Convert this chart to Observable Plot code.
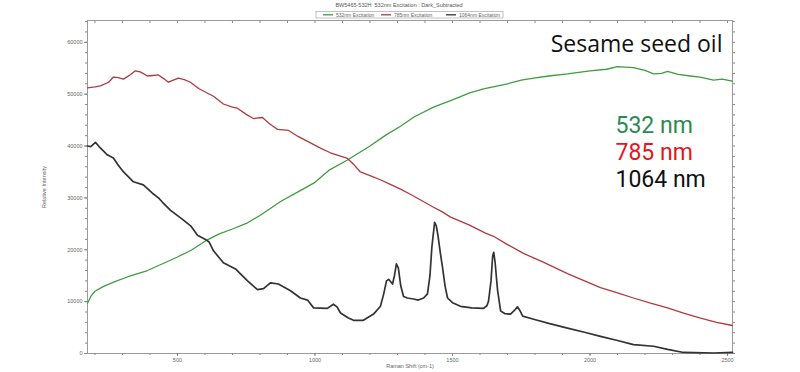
<!DOCTYPE html>
<html>
<head>
<meta charset="utf-8">
<script src="https://cdn.jsdelivr.net/npm/d3@7"></script>
<script src="https://cdn.jsdelivr.net/npm/@observablehq/plot@0.6"></script>
<style>
  body { margin: 0; background: #fff; }
  #chart { width: 800px; height: 372px; }
</style>
</head>
<body>
<div id="chart"></div>
<script>
// ---- Data ----
const chartTitle = "BW5465-532H  532nm Excitation : Dark_Subtracted";
const seriesNames = ["532nm Excitation", "785nm Excitation", "1064nm Excitation"];
const seriesColors = ["#3f9c3f", "#b03a3e", "#333333"];
const annotationLabels = ["532 nm", "785 nm", "1064 nm"];
const annotationColors = ["#2a8a55", "#e3161b", "#111111"];
const sampleName = "Sesame seed oil";

const xTicks = [500, 1000, 1500, 2000, 2500];
const yTicks = [0, 10000, 20000, 30000, 40000, 50000, 60000];

// 532 nm excitation
const shift532 = [173,185,200,230,270,320,391,450,500,550,602,650,700,755,800,875,950,1000,1050,1118,1200,1260,1311,1360,1431,1500,1560,1613,1700,1750,1795,1850,1918,2000,2060,2100,2158,2200,2231,2260,2282,2320,2365,2400,2449,2480,2518];
const int532   = [9700,11000,12000,12900,13800,14800,16000,17400,18600,19900,21700,23000,24000,25200,26600,29300,31500,33000,35300,37300,40000,42200,43800,45600,47500,48900,50200,51000,52000,52700,53100,53500,53900,54500,54800,55300,55100,54600,53900,54000,54400,53800,53500,53300,52700,52900,52500];

// 785 nm excitation
const shift785 = [173,200,220,250,267,285,304,330,347,365,391,410,431,450,467,485,504,525,547,580,631,667,700,718,750,776,809,835,864,904,940,973,1020,1056,1118,1140,1165,1200,1238,1270,1311,1350,1384,1431,1460,1493,1560,1620,1649,1700,1758,1830,1918,1980,2038,2100,2158,2220,2282,2340,2402,2460,2518];
const int785   = [51200,51400,51600,52300,53300,53200,52900,53800,54500,54300,53500,53600,53700,53000,52300,52700,53100,52800,52300,51000,49600,48100,47500,47300,46100,45300,45500,44300,43200,43000,41800,40900,39600,38700,37600,36500,35000,34300,33500,32700,31700,30600,29600,28200,27400,26300,24800,23200,22600,21000,19300,17600,15400,14000,12700,11700,10700,9700,8800,7800,6800,6000,5400];

// 1064 nm excitation
const shift1064 = [173,185,202,215,245,267,285,304,340,376,409,431,445,475,522,550,573,602,615,631,667,711,755,791,813,838,867,911,947,973,995,1045,1067,1080,1093,1120,1140,1176,1213,1238,1250,1260,1268,1282,1289,1296,1303,1312,1322,1336,1358,1376,1395,1409,1418,1425,1435,1441,1447,1456,1464,1473,1482,1500,1529,1570,1613,1625,1631,1640,1646,1650,1655,1664,1675,1690,1711,1725,1736,1745,1755,1795,1850,1918,1980,2038,2100,2158,2231,2282,2340,2450,2518];
const int1064   = [40000,39900,40700,39900,38300,37700,36300,35000,33100,32500,30900,30000,29200,27600,25700,24500,22800,22000,21500,19800,17500,16300,14000,12300,12500,13600,13400,12100,10700,10300,8800,8700,9500,9000,7800,6900,6400,6400,7600,9100,11500,14000,14300,13400,15000,17300,16500,13000,11000,10700,10500,10300,10700,11500,15000,20500,25300,24600,22800,19300,16500,13000,10700,9800,9100,8800,8700,9200,10100,14000,18800,19500,17500,12100,8200,7700,7600,8300,9000,8300,7200,6600,5800,4900,4100,3300,2500,1700,1400,800,200,100,200];

// ---- Build table ----
const rows = [];
[[shift532, int532], [shift785, int785], [shift1064, int1064]].forEach(([xs, ys], i) => {
  xs.forEach((x, j) => rows.push({series: seriesNames[i], shift: x, intensity: ys[j]}));
});

const plot = Plot.plot({
  width: 800,
  height: 372,
  marginTop: 20,
  marginRight: 68,
  marginBottom: 19,
  marginLeft: 87,
  style: {fontFamily: "Arial, 'Liberation Sans', sans-serif", fontSize: "6px", color: "#666", background: "#fff"},
  x: {domain: [173, 2518]},
  y: {domain: [0, 64200]},
  color: {domain: seriesNames, range: seriesColors},
  marks: [
    Plot.frame({stroke: "#9a9a9a"}),
    Plot.axisX({ticks: xTicks, tickSize: 3, tickPadding: 2, fontSize: 5.5, tickFormat: d3.format("d"),
      label: "Raman Shift (cm-1)", labelAnchor: "center", labelArrow: "none", labelOffset: 14, stroke: "#888"}),
    Plot.axisX({ticks: d3.range(200, 2501, 100), tickSize: 2, text: null, label: null, stroke: "#888"}),
    Plot.axisX({anchor: "top", ticks: d3.range(200, 2501, 100), tickSize: -2, text: null, label: null, stroke: "#888"}),
    Plot.axisY({ticks: yTicks, tickSize: 3, tickPadding: 2, fontSize: 5.5, tickFormat: d3.format("d"),
      label: "Relative Intensity", labelAnchor: "center", labelArrow: "none", labelOffset: 45, stroke: "#888"}),
    Plot.axisY({ticks: d3.range(0, 64001, 2000), tickSize: 2, text: null, label: null, stroke: "#888"}),
    Plot.axisY({anchor: "right", ticks: d3.range(0, 64001, 2000), tickSize: 2, text: null, label: null, stroke: "#888"}),
    Plot.line(rows, {x: "shift", y: "intensity", z: "series", stroke: "series",
      strokeWidth: d => d.series === seriesNames[2] ? 1.7 : 1.3, curve: "linear"}),
    Plot.text([sampleName], {text: d => d, frameAnchor: "top-right", dx: -10, dy: 31,
      textAnchor: "end", lineAnchor: "bottom", fontSize: 23, fill: "#111",
      fontFamily: "'Open Sans', 'Noto Sans', sans-serif"}),
    ...annotationLabels.map((lab, i) => Plot.text([lab], {text: d => d, frameAnchor: "top-left",
      dx: 528, dy: 112 + 27 * i, textAnchor: "start", lineAnchor: "bottom", fontSize: 23,
      fill: annotationColors[i], fontFamily: "Roboto, 'Open Sans', sans-serif"}))
  ]
});

document.getElementById("chart").appendChild(plot);

// Title and legend above the frame
const svg = d3.select(plot);
svg.append("text")
  .attr("x", 399).attr("y", 7)
  .attr("text-anchor", "middle")
  .attr("font-size", 5.5)
  .attr("font-family", "Arial, 'Liberation Sans', sans-serif")
  .attr("fill", "#555")
  .text(chartTitle);

const lg = svg.append("g")
  .attr("font-family", "Arial, 'Liberation Sans', sans-serif")
  .attr("font-size", 5)
  .attr("text-anchor", "start");
lg.append("rect").attr("x", 316).attr("y", 11.5).attr("width", 187).attr("height", 6.5)
  .attr("fill", "#fff").attr("stroke", "#999").attr("stroke-width", 0.6);
const legendX = [323, 381, 446];
seriesNames.forEach((name, i) => {
  lg.append("line").attr("x1", legendX[i]).attr("x2", legendX[i] + 10).attr("y1", 14.8).attr("y2", 14.8)
    .attr("stroke", seriesColors[i]).attr("stroke-width", 1.3);
  lg.append("text").attr("x", legendX[i] + 13).attr("y", 16.6).attr("text-anchor", "start")
    .attr("fill", "#666").text(name);
});
</script>
</body>
</html>
